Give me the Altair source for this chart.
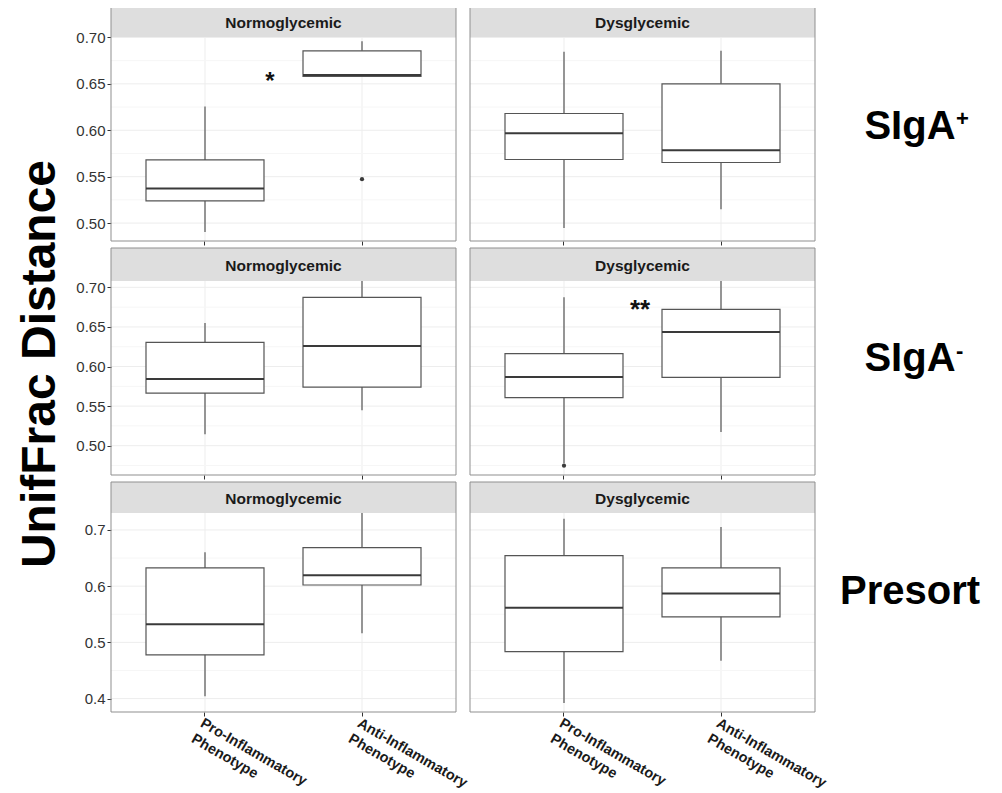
import altair as alt
import pandas as pd

# ---------------- data ----------------
panel_rows = ["SIgA+", "SIgA-", "Presort"]
row_label_main = ["SIgA", "SIgA", "Presort"]
row_label_sup = ["+", "-", ""]
glycemic_groups = ["Normoglycemic", "Dysglycemic"]
phenotypes = ["Pro-Inflammatory Phenotype", "Anti-Inflammatory Phenotype"]
y_title = "UnifFrac Distance"

# order: row -> glycemic group -> phenotype
whisker_low = [0.4905, 0.6580, 0.4948, 0.5150,
               0.5144, 0.5447, 0.4778, 0.5173,
               0.4043, 0.5164, 0.3923, 0.4674]
quartile_1 = [0.5239, 0.6580, 0.5685, 0.5653,
              0.5665, 0.5741, 0.5606, 0.5864,
              0.4779, 0.6021, 0.4836, 0.5454]
medians = [0.5373, 0.6596, 0.5969, 0.5786,
           0.5842, 0.6259, 0.5867, 0.6436,
           0.5322, 0.6194, 0.5617, 0.5870]
quartile_3 = [0.5681, 0.6856, 0.6181, 0.6500,
              0.6306, 0.6874, 0.6162, 0.6722,
              0.6324, 0.6685, 0.6543, 0.6324]
whisker_high = [0.6256, 0.6960, 0.6845, 0.6856,
                0.6550, 0.7150, 0.6874, 0.7150,
                0.6603, 0.7400, 0.7201, 0.7053]

outlier_row = ["SIgA+", "SIgA-"]
outlier_group = ["Normoglycemic", "Dysglycemic"]
outlier_pheno = ["Anti-Inflammatory Phenotype", "Pro-Inflammatory Phenotype"]
outlier_value = [0.5473, 0.4747]

star_text = ["*", "**"]
star_row = ["SIgA+", "SIgA-"]
star_group = ["Normoglycemic", "Dysglycemic"]
star_pheno = ["Anti-Inflammatory Phenotype", "Anti-Inflammatory Phenotype"]
star_y = [0.6450, 0.6610]

y_domains = [[0.4807, 0.7005], [0.4630, 0.7080], [0.3761, 0.7302]]
y_ticks = [[0.50, 0.55, 0.60, 0.65, 0.70],
           [0.50, 0.55, 0.60, 0.65, 0.70],
           [0.4, 0.5, 0.6, 0.7]]
y_minor = [[0.525, 0.575, 0.625, 0.675],
           [0.475, 0.525, 0.575, 0.625, 0.675],
           [0.45, 0.55, 0.65]]
y_formats = [".2f", ".2f", ".1f"]

# ---------------- layout / style ----------------
FONT = "Liberation Sans"
PANEL_W = 345
PLOT_H = [204, 194, 199]
STRIP_H = [30, 33, 31]
STAR_DX = [-92, -81]
STAR_SIZE = [24, 26]
ROW_LABEL_Y = [102, 90, 91]
BOX_W = 118
BOX_COL = "#555555"
MED_COL = "#3a3a3a"
GRID_MAJ = "#EDEDED"
GRID_MIN = "#F6F6F6"
BORDER = "#8F8F8F"
STRIP_FILL = "#DEDEDE"

box_df = pd.DataFrame({
    "row": [r for r in panel_rows for g in glycemic_groups for p in phenotypes],
    "group": [g for r in panel_rows for g in glycemic_groups for p in phenotypes],
    "phenotype": [p for r in panel_rows for g in glycemic_groups for p in phenotypes],
    "low": whisker_low, "q1": quartile_1, "median": medians,
    "q3": quartile_3, "high": whisker_high,
})
out_df = pd.DataFrame({"row": outlier_row, "group": outlier_group,
                       "phenotype": outlier_pheno, "value": outlier_value})
star_df = pd.DataFrame({"row": star_row, "group": star_group, "phenotype": star_pheno,
                        "text": star_text, "y": star_y})


def make_panel(ri, gi):
    r, g = panel_rows[ri], glycemic_groups[gi]
    W, H, SH = PANEL_W, PLOT_H[ri], STRIP_H[ri]
    left = gi == 0
    bottom = ri == 2
    d = box_df[(box_df["row"] == r) & (box_df["group"] == g)]

    y_scale = alt.Scale(domain=y_domains[ri], nice=False, zero=False)
    if left:
        y_axis = alt.Axis(title=None, values=y_ticks[ri], format=y_formats[ri], grid=False,
                          domain=False, tickSize=4, tickColor="#333333", labelFont=FONT,
                          labelFontSize=15, labelColor="#333333", labelPadding=2,
                          minExtent=36, maxExtent=36)
    else:
        y_axis = None

    x_scale = alt.Scale(domain=phenotypes, paddingInner=0, paddingOuter=0.0987)
    if bottom:
        x_axis = alt.Axis(title=None, grid=False, domain=False, tickSize=4, tickColor="#333333",
                          labelExpr="split(datum.value, ' ')", labelAngle=30, labelAlign="left",
                          labelBaseline="top", labelFont=FONT, labelFontSize=14.5,
                          labelFontWeight="bold", labelColor="#1a1a1a", labelLineHeight=18,
                          labelPadding=0, labelLimit=300)
    else:
        x_axis = alt.Axis(title=None, grid=False, domain=False, tickSize=4, tickColor="#333333",
                          labels=False)

    def X():
        return alt.X("phenotype:N", scale=x_scale, axis=x_axis, sort=phenotypes)

    def Y(field):
        return alt.Y(field, scale=y_scale, axis=y_axis)

    layers = []
    layers.append(alt.Chart(d).mark_rule(color=GRID_MAJ, strokeWidth=1).encode(x=X()))
    layers.append(alt.Chart(pd.DataFrame({"v": y_minor[ri]})).mark_rule(
        color=GRID_MIN, strokeWidth=1, clip=True).encode(y=Y("v:Q")))
    layers.append(alt.Chart(pd.DataFrame({"v": y_ticks[ri]})).mark_rule(
        color=GRID_MAJ, strokeWidth=1, clip=True).encode(y=Y("v:Q")))
    layers.append(alt.Chart(d).mark_rule(color=BOX_COL, strokeWidth=1.2, clip=True).encode(
        x=X(), y=Y("low:Q"), y2="high:Q"))
    layers.append(alt.Chart(d).mark_bar(size=BOX_W, fill="white", stroke=BOX_COL,
                                        strokeWidth=1.2, clip=True).encode(
        x=X(), y=Y("q1:Q"), y2="q3:Q"))
    layers.append(alt.Chart(d).mark_tick(size=BOX_W, thickness=2, color=MED_COL, opacity=1,
                                         clip=True).encode(x=X(), y=Y("median:Q")))
    od = out_df[(out_df["row"] == r) & (out_df["group"] == g)]
    if len(od):
        layers.append(alt.Chart(od).mark_circle(size=18, color="#3a3a3a", opacity=1).encode(
            x=X(), y=Y("value:Q")))
    sd = star_df[(star_df["row"] == r) & (star_df["group"] == g)]
    if len(sd):
        si = star_row.index(r)
        layers.append(alt.Chart(sd).mark_text(font=FONT, fontSize=STAR_SIZE[si], fontWeight="bold",
                                              color="#111111", dx=STAR_DX[si],
                                              baseline="alphabetic").encode(
            x=X(), y=Y("y:Q"), text="text:N"))

    strip_df = pd.DataFrame({"label": [g]})
    layers.append(alt.Chart(strip_df).mark_rect(fill=STRIP_FILL).encode(
        x=alt.value(0), x2=alt.value(W), y=alt.value(-SH), y2=alt.value(0)))
    layers.append(alt.Chart(strip_df).mark_text(font=FONT, fontSize=15.5, fontWeight="bold",
                                                color="#1a1a1a", baseline="middle").encode(
        x=alt.value(W / 2), y=alt.value(-SH / 2 + 1), text="label:N"))
    layers.append(alt.Chart(strip_df).mark_rect(fill="white", fillOpacity=0, stroke=BORDER,
                                                strokeWidth=1).encode(
        x=alt.value(0), x2=alt.value(W), y=alt.value(-SH), y2=alt.value(H)))

    if not left:
        lab_df = pd.DataFrame({"main": [row_label_main[ri]], "sup": [row_label_sup[ri]]})
        layers.append(alt.Chart(lab_df).mark_text(font=FONT, fontSize=40, fontWeight="bold",
                                                  color="black", align="center",
                                                  baseline="alphabetic").encode(
            x=alt.value(440), y=alt.value(ROW_LABEL_Y[ri]), text="main:N"))
        if row_label_sup[ri]:
            layers.append(alt.Chart(lab_df).mark_text(font=FONT, fontSize=22, fontWeight="bold",
                                                      color="black", align="left",
                                                      baseline="alphabetic").encode(
                x=alt.value(486), y=alt.value(ROW_LABEL_Y[ri] - 13), text="sup:N"))

    return alt.layer(*layers).properties(width=W, height=H)


left_col = alt.vconcat(*[make_panel(ri, 0) for ri in range(3)], spacing=1)
right_col = alt.vconcat(*[make_panel(ri, 1) for ri in range(3)], spacing=1)
grid = alt.hconcat(left_col, right_col, spacing=-5)

title_chart = alt.Chart(pd.DataFrame({"t": [y_title]})).mark_text(
    angle=270, font=FONT, fontSize=48, fontWeight="bold", color="black",
    align="center", baseline="alphabetic").encode(
    x=alt.value(47), y=alt.value(327), text="t:N").properties(width=60, height=640)

chart = alt.hconcat(title_chart, grid, spacing=7).properties(
    padding={"left": 0, "top": -2, "right": 0, "bottom": 0}
).configure_view(stroke=None)

chart.save("out.html", embed_options={"renderer": "svg", "actions": False})
